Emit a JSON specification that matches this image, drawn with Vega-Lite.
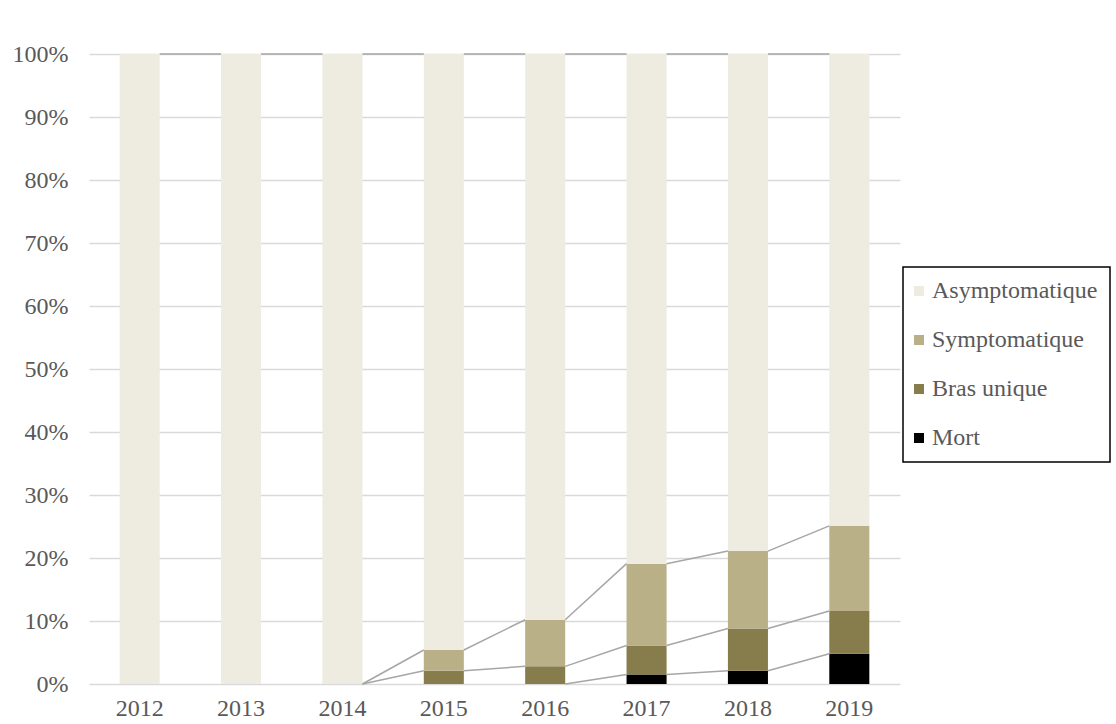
{
  "$schema": "https://vega.github.io/schema/vega-lite/v6.json",
  "width": 811,
  "height": 630,
  "autosize": {"type": "none"},
  "padding": {"left": 89, "top": 54, "right": 216, "bottom": 40},
  "background": "white",
  "datasets": {
    "barres": [
      {"annee": "2012", "categorie": "Asymptomatique", "ordre": 4, "valeur": 100},
      {"annee": "2013", "categorie": "Asymptomatique", "ordre": 4, "valeur": 100},
      {"annee": "2014", "categorie": "Asymptomatique", "ordre": 4, "valeur": 100},
      {"annee": "2015", "categorie": "Mort", "ordre": 1, "valeur": 0},
      {"annee": "2015", "categorie": "Bras unique", "ordre": 2, "valeur": 2.1},
      {"annee": "2015", "categorie": "Symptomatique", "ordre": 3, "valeur": 3.3},
      {"annee": "2015", "categorie": "Asymptomatique", "ordre": 4, "valeur": 94.6},
      {"annee": "2016", "categorie": "Mort", "ordre": 1, "valeur": 0},
      {"annee": "2016", "categorie": "Bras unique", "ordre": 2, "valeur": 2.8},
      {"annee": "2016", "categorie": "Symptomatique", "ordre": 3, "valeur": 7.4},
      {"annee": "2016", "categorie": "Asymptomatique", "ordre": 4, "valeur": 89.8},
      {"annee": "2017", "categorie": "Mort", "ordre": 1, "valeur": 1.5},
      {"annee": "2017", "categorie": "Bras unique", "ordre": 2, "valeur": 4.6},
      {"annee": "2017", "categorie": "Symptomatique", "ordre": 3, "valeur": 13.0},
      {"annee": "2017", "categorie": "Asymptomatique", "ordre": 4, "valeur": 80.9},
      {"annee": "2018", "categorie": "Mort", "ordre": 1, "valeur": 2.1},
      {"annee": "2018", "categorie": "Bras unique", "ordre": 2, "valeur": 6.7},
      {"annee": "2018", "categorie": "Symptomatique", "ordre": 3, "valeur": 12.3},
      {"annee": "2018", "categorie": "Asymptomatique", "ordre": 4, "valeur": 78.9},
      {"annee": "2019", "categorie": "Mort", "ordre": 1, "valeur": 4.8},
      {"annee": "2019", "categorie": "Bras unique", "ordre": 2, "valeur": 6.8},
      {"annee": "2019", "categorie": "Symptomatique", "ordre": 3, "valeur": 13.5},
      {"annee": "2019", "categorie": "Asymptomatique", "ordre": 4, "valeur": 74.9}
    ],
    "lignes": [
      {"annee": "2012", "suivante": "2013", "de": 100, "a": 100},
      {"annee": "2013", "suivante": "2014", "de": 100, "a": 100},
      {"annee": "2014", "suivante": "2015", "de": 100, "a": 100},
      {"annee": "2015", "suivante": "2016", "de": 100, "a": 100},
      {"annee": "2016", "suivante": "2017", "de": 100, "a": 100},
      {"annee": "2017", "suivante": "2018", "de": 100, "a": 100},
      {"annee": "2018", "suivante": "2019", "de": 100, "a": 100},
      {"annee": "2014", "suivante": "2015", "de": 0, "a": 5.4},
      {"annee": "2015", "suivante": "2016", "de": 5.4, "a": 10.2},
      {"annee": "2016", "suivante": "2017", "de": 10.2, "a": 19.1},
      {"annee": "2017", "suivante": "2018", "de": 19.1, "a": 21.1},
      {"annee": "2018", "suivante": "2019", "de": 21.1, "a": 25.1},
      {"annee": "2014", "suivante": "2015", "de": 0, "a": 2.1},
      {"annee": "2015", "suivante": "2016", "de": 2.1, "a": 2.8},
      {"annee": "2016", "suivante": "2017", "de": 2.8, "a": 6.1},
      {"annee": "2017", "suivante": "2018", "de": 6.1, "a": 8.8},
      {"annee": "2018", "suivante": "2019", "de": 8.8, "a": 11.6},
      {"annee": "2016", "suivante": "2017", "de": 0, "a": 1.5},
      {"annee": "2017", "suivante": "2018", "de": 1.5, "a": 2.1},
      {"annee": "2018", "suivante": "2019", "de": 2.1, "a": 4.8}
    ]
  },
  "layer": [
    {
      "data": {"name": "barres"},
      "mark": {"type": "bar"},
      "encoding": {
        "x": {
          "field": "annee",
          "type": "ordinal",
          "title": null,
          "scale": {"paddingInner": 0.605, "paddingOuter": 0.3025},
          "axis": {
            "labelAngle": 0,
            "domain": false,
            "ticks": false,
            "grid": false,
            "labelPadding": 12,
            "labelBaseline": "top"
          }
        },
        "y": {
          "field": "valeur",
          "type": "quantitative",
          "stack": "zero",
          "title": null,
          "scale": {"domain": [0, 100], "nice": false},
          "axis": {
            "values": [0, 10, 20, 30, 40, 50, 60, 70, 80, 90, 100],
            "labelExpr": "datum.value + '%'",
            "domain": false,
            "ticks": false,
            "grid": true,
            "gridColor": "#D9D9D9",
            "gridWidth": 1.5,
            "labelPadding": 21
          }
        },
        "color": {
          "field": "categorie",
          "type": "nominal",
          "scale": {
            "domain": ["Asymptomatique", "Symptomatique", "Bras unique", "Mort"],
            "range": ["#EEEBE0", "#B9B087", "#877C4B", "#000000"]
          },
          "legend": {
            "title": null,
            "orient": "none",
            "legendX": 814,
            "legendY": 213,
            "symbolType": "square",
            "symbolSize": 100,
            "symbolStrokeWidth": 0,
            "symbolOffset": -8,
            "labelOffset": 1,
            "labelLimit": 400,
            "rowPadding": 25,
            "padding": 12,
            "strokeColor": "#000000"
          }
        },
        "order": {"field": "ordre", "type": "quantitative", "sort": "ascending"}
      }
    },
    {
      "data": {"name": "lignes"},
      "mark": {"type": "rule", "color": "#A6A6A6", "strokeWidth": 1.5},
      "encoding": {
        "x": {"field": "annee", "type": "ordinal", "bandPosition": 1},
        "x2": {"field": "suivante", "bandPosition": 0},
        "y": {"field": "de", "type": "quantitative", "stack": null},
        "y2": {"field": "a"}
      }
    }
  ],
  "config": {
    "view": {"stroke": null},
    "font": "Liberation Serif",
    "axis": {
      "labelFont": "Liberation Serif",
      "labelFontSize": 24,
      "labelColor": "#595959"
    },
    "legend": {
      "labelFont": "Liberation Serif",
      "labelFontSize": 24,
      "labelColor": "#595959",
      "strokeWidth": 1.5
    }
  }
}
